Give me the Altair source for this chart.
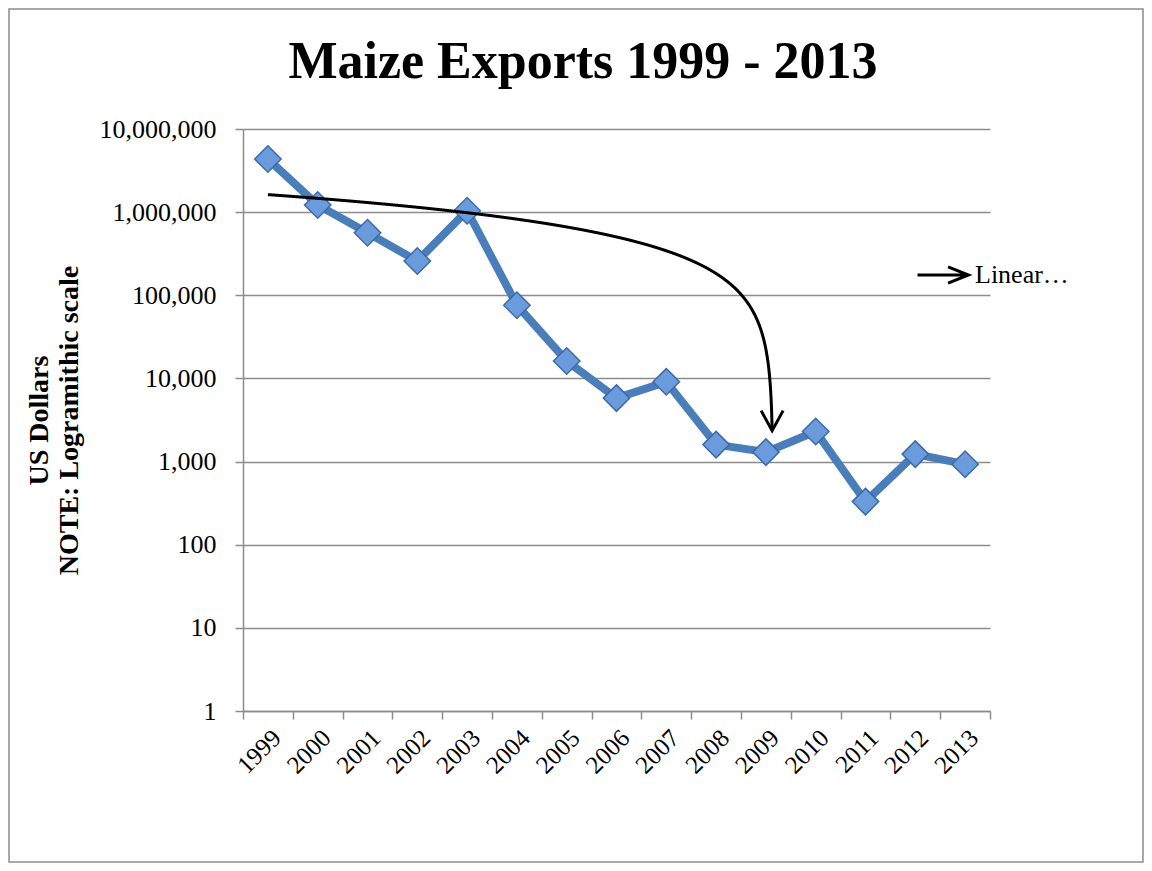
import altair as alt
import pandas as pd
import numpy as np

years = [str(y) for y in range(1999, 2014)]
exports = [4350000, 1220000, 565000, 258000, 1040000, 76000, 16200, 5800,
           9100, 1600, 1300, 2300, 330, 1230, 930]
tick_values = [1, 10, 100, 1000, 10000, 100000, 1000000, 10000000]
title_text = "Maize Exports 1999 - 2013"

df = pd.DataFrame({"year": years, "value": exports, "idx": list(range(len(years)))})

# Linear (least-squares) trendline of the series, drawn on the log axis
coef = np.polyfit(np.arange(len(exports)), exports, 1)
grid = np.arange(0, len(exports) - 1, 0.005)
fit = np.polyval(coef, grid)
mask = fit > 2000
trend = pd.DataFrame({"idx": grid[mask], "value": fit[mask], "series": "Linear…"})
tip = trend.iloc[[-1]]

FONT = "Liberation Serif"
GRID = "#8c8c8c"

yenc = alt.Y(
    "value:Q",
    scale=alt.Scale(type="log", domain=[1, 10000000], nice=False),
    axis=alt.Axis(
        values=tick_values, format=",", title=["US Dollars", "NOTE: Logramithic scale"],
        titleFont=FONT, titleFontSize=28, titleFontWeight="bold", titleColor="black",
        titleLineHeight=30, titlePadding=16, labelFont=FONT, labelFontSize=26,
        labelColor="black", labelPadding=19, tickSize=8, tickColor=GRID,
        domainColor=GRID, gridColor=GRID, gridWidth=1.5, tickWidth=1.5, domainWidth=1.5,
    ),
)

xband = alt.X(
    "year:O",
    scale=alt.Scale(type="band", paddingInner=0, paddingOuter=0),
    axis=alt.Axis(
        title=None, labelAngle=-45, labelFont=FONT, labelFontSize=25, labelColor="black",
        tickBand="extent", tickSize=8, tickColor=GRID, domainColor=GRID, grid=False,
        tickWidth=1.5, domainWidth=1.5, labelPadding=6,
    ),
)

line = alt.Chart(df).mark_line(color="#4a7ebb", strokeWidth=8).encode(x=xband, y=yenc)
points = alt.Chart(df).mark_point(
    shape="diamond", filled=True, size=700, fill="#6a9bdc", stroke="#3d6aa6",
    strokeWidth=1.5, opacity=1,
).encode(x=xband, y=yenc)

border = alt.Chart(alt.Data(values=[{}])).mark_rect(
    fillOpacity=0, stroke=GRID, strokeWidth=1.5
).encode(x=alt.value(-234), x2=alt.value(900), y=alt.value(-120), y2=alt.value(733))

title = alt.Chart(alt.Data(values=[{"t": title_text}])).mark_text(
    font=FONT, fontSize=52, fontWeight="bold", color="black",
    align="center", baseline="alphabetic",
).encode(text="t:N", x=alt.value(340), y=alt.value(-51))

layer_a = alt.layer(border, title, line, points)

xq = alt.X("idx:Q", scale=alt.Scale(domain=[-0.5, len(years) - 0.5], nice=False, zero=False), axis=None)

trend_line = alt.Chart(trend).mark_line(strokeWidth=3).encode(
    x=xq, y=yenc,
    color=alt.Color(
        "series:N", scale=alt.Scale(range=["black"]),
        legend=alt.Legend(
            title=None, orient="none", legendX=673, legendY=119,
            symbolType="M-1,0L1,0M0.2,-0.32L1,0L0.2,0.32", symbolSize=2600,
            symbolStrokeWidth=3, labelFont=FONT, labelFontSize=26, labelColor="black",
            labelOffset=5,
        ),
    ),
)
arrow = alt.Chart(tip).mark_point(
    shape="M-0.55,-1L0,0L0.55,-1", filled=False, stroke="black", strokeWidth=3,
    size=1600, opacity=1,
).encode(x=xq, y=yenc)

layer_b = alt.layer(trend_line, arrow)

chart = alt.layer(layer_a, layer_b).resolve_scale(x="independent").properties(
    width=747, height=582, padding=0,
).configure_view(stroke=None)

chart.save("out.html", embed_options={"renderer": "svg", "actions": False})
